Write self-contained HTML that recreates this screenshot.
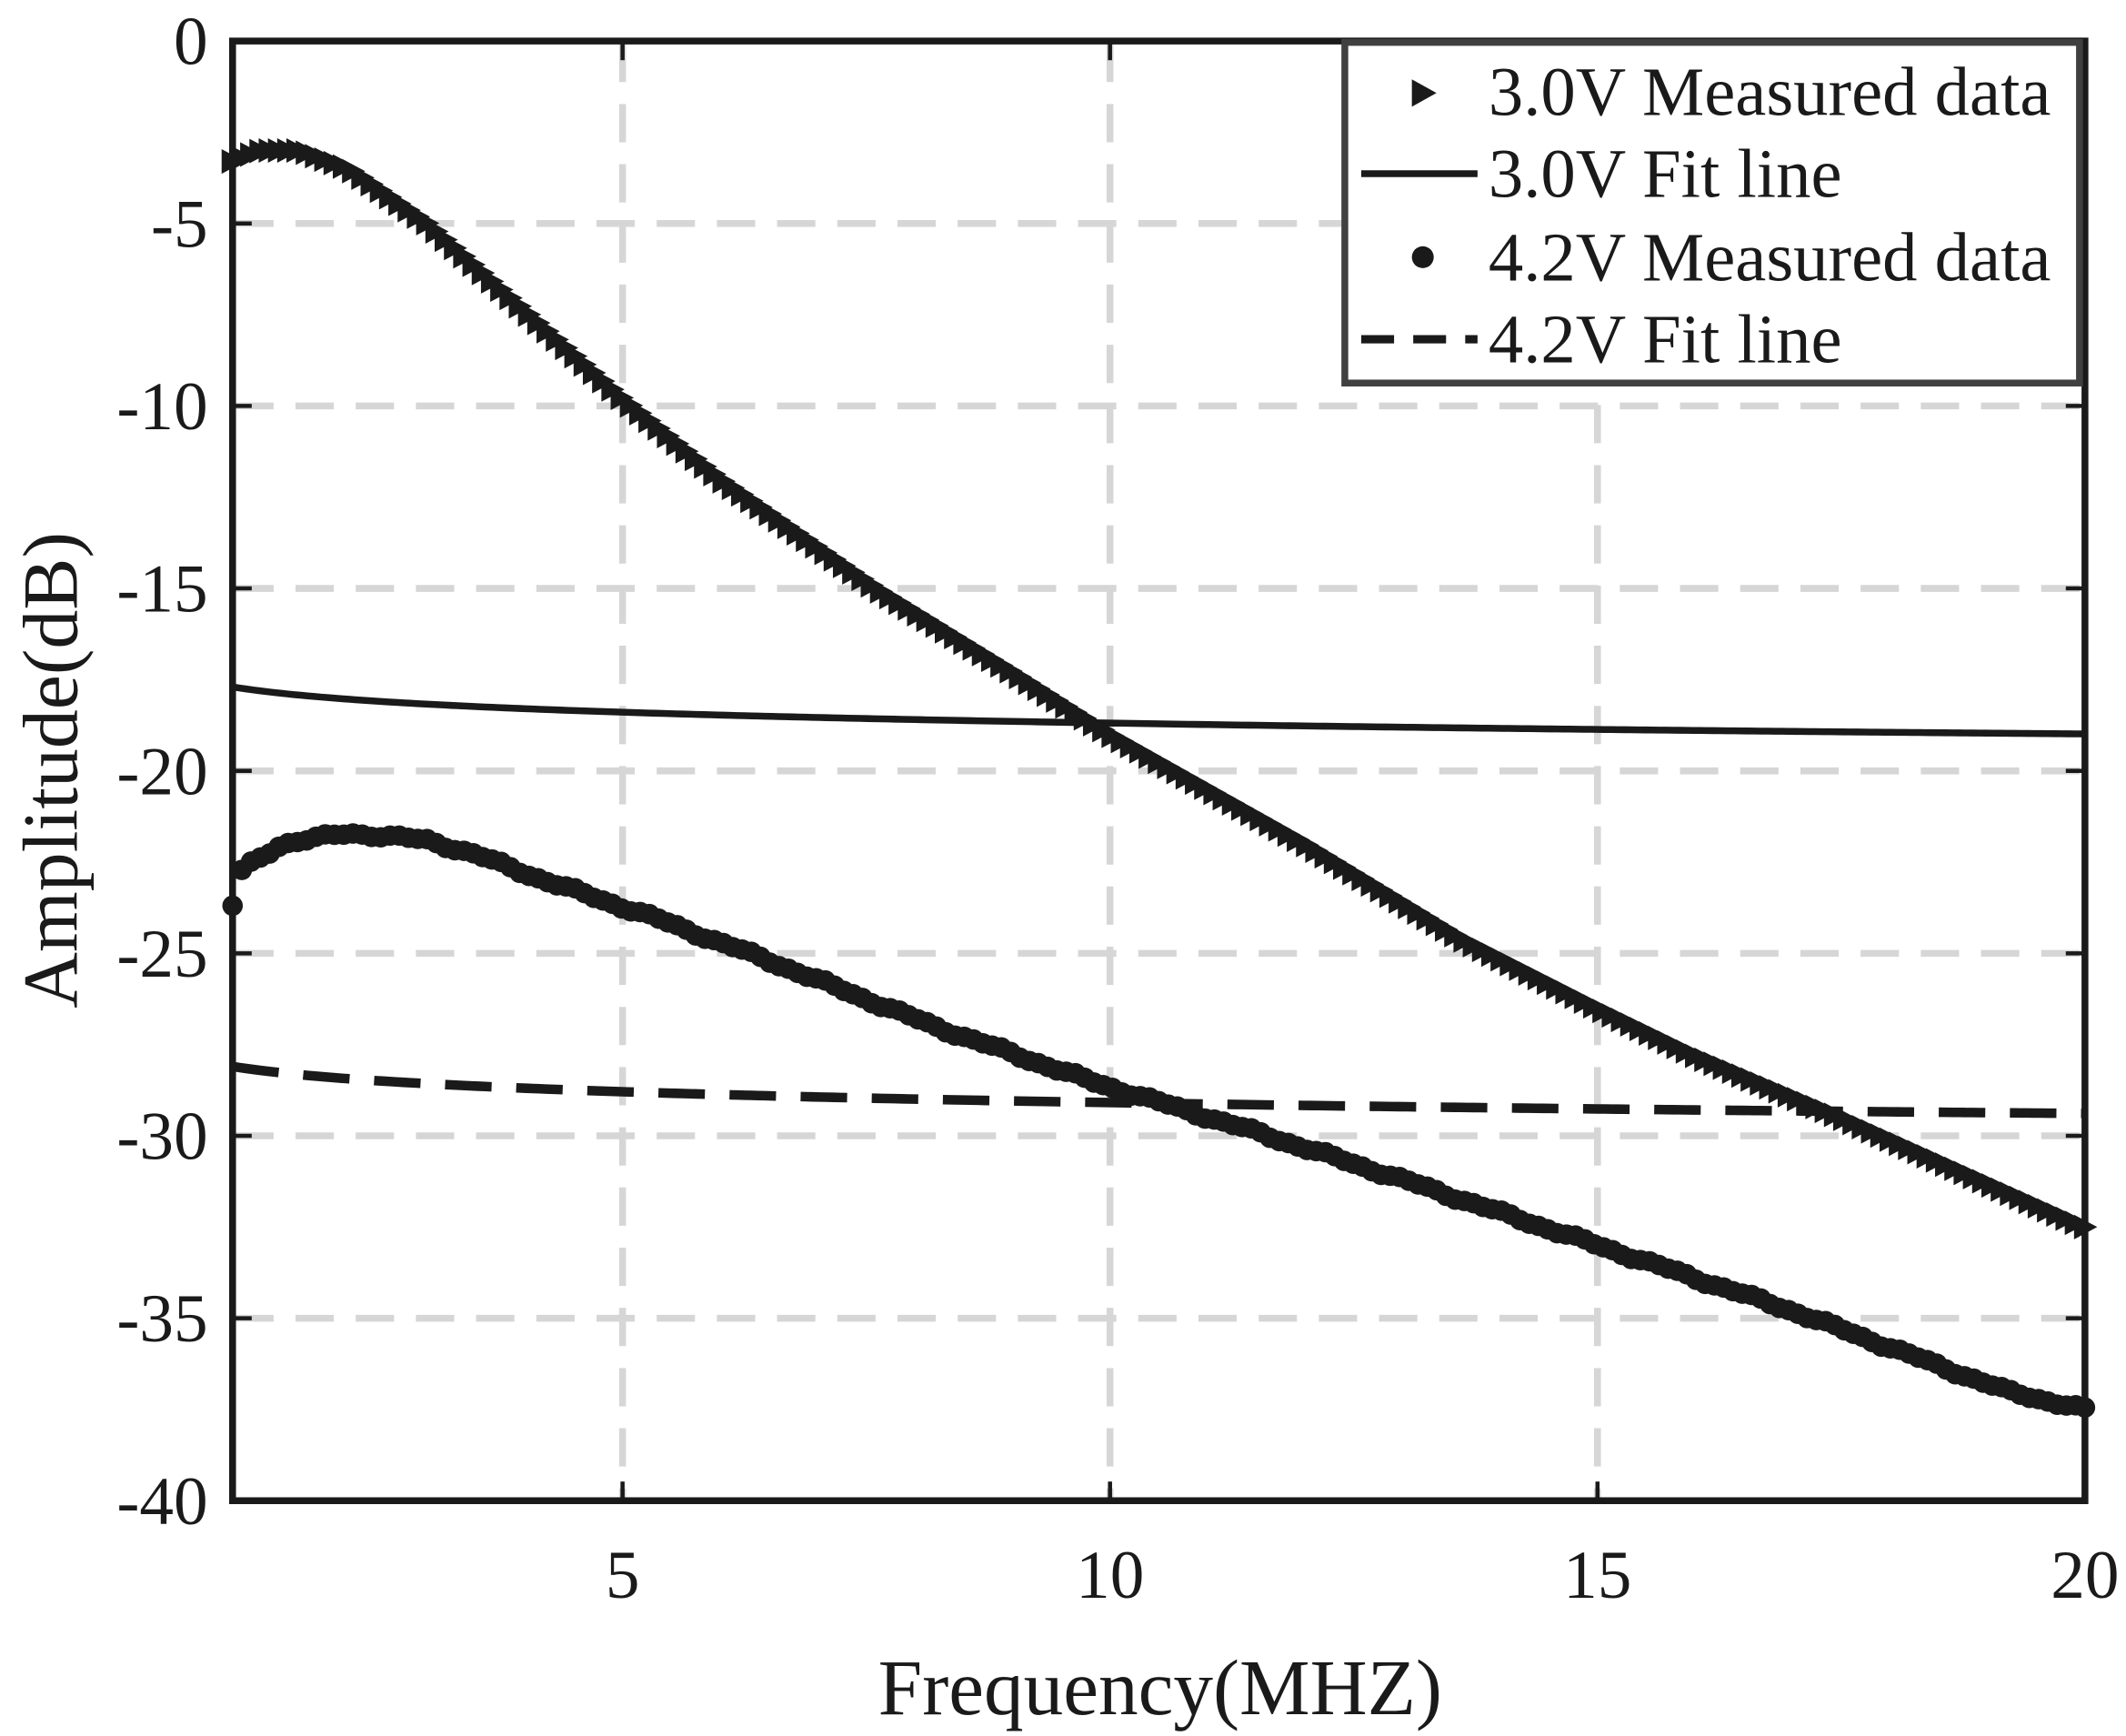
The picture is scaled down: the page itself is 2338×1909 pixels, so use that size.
<!DOCTYPE html>
<html><head><meta charset="utf-8"><style>
html,body{margin:0;padding:0;background:#fff}
svg{display:block}
text{font-family:"Liberation Serif",serif;fill:#1a1a1a}
</style></head><body>
<svg id="s" width="2338" height="1909" viewBox="0 0 1554 1269" preserveAspectRatio="none" xmlns="http://www.w3.org/2000/svg">
<rect width="1554" height="1269" fill="#fff"/>
<g id="grid" stroke="#d6d6d6" stroke-width="5" stroke-dasharray="28,16"></g>
<g id="data"></g>
<rect x="170" y="30" width="1354" height="1067" fill="none" stroke="#1a1a1a" stroke-width="5"/>
<g id="ticks" stroke="#1a1a1a" stroke-width="3"></g>
<g font-size="50" text-anchor="end" id="ylab"></g>
<g font-size="50" text-anchor="middle" id="xlab"></g>
<text x="848" y="1253" font-size="58" text-anchor="middle">Frequency(MHZ)</text>
<text transform="translate(56,563) rotate(-90)" font-size="57" text-anchor="middle">Amplitude(dB)</text>
<rect x="983" y="31" width="537" height="249" fill="#fff" stroke="#404040" stroke-width="5"/>
<polygon points="1032,58 1050,68 1032,78" fill="#1a1a1a"/>
<line x1="995" y1="127" x2="1080" y2="127" stroke="#1a1a1a" stroke-width="5"/>
<circle cx="1040" cy="188" r="8" fill="#1a1a1a"/>
<line x1="995" y1="248" x2="1080" y2="248" stroke="#1a1a1a" stroke-width="6" stroke-dasharray="24,14"/>
<g font-size="51"><text x="1088" y="84">3.0V Measured data</text><text x="1088" y="144">3.0V Fit line</text><text x="1088" y="205">4.2V Measured data</text><text x="1088" y="265">4.2V Fit line</text></g>
</svg>
<script>
var NS="http://www.w3.org/2000/svg";
function X(f){return 170+(f-1)*(1354/19);}
function Y(d){return 30-d*(1067/40);}
function el(p,t,a){var e=document.createElementNS(NS,t);for(var k in a)e.setAttribute(k,a[k]);document.getElementById(p).appendChild(e);return e;}
[5,10,15].forEach(function(f){el("grid","line",{x1:X(f),x2:X(f),y1:32,y2:1095});});
for(var d=-5;d>=-35;d-=5)el("grid","line",{x1:172,x2:1522,y1:Y(d),y2:Y(d)});
for(var d=0;d>=-40;d-=5){el("ylab","text",{x:152,y:Y(d)+17}).textContent=d;
 el("ticks","line",{x1:170,x2:184,y1:Y(d),y2:Y(d)});el("ticks","line",{x1:1510,x2:1524,y1:Y(d),y2:Y(d)});}
[5,10,15,20].forEach(function(f){el("xlab","text",{x:X(f),y:1168}).textContent=f;
 el("ticks","line",{x1:X(f),x2:X(f),y1:1083,y2:1097});el("ticks","line",{x1:X(f),x2:X(f),y1:30,y2:44});});
function interp(P,f){for(var i=0;i<P.length-1;i++){if(f<=P[i+1][0]){var t=(f-P[i][0])/(P[i+1][0]-P[i][0]);return P[i][1]+t*(P[i+1][1]-P[i][1]);}}return P[P.length-1][1];}
var A=[[1,-3.3],[1.3,-3.0],[1.7,-3.0],[2.2,-3.5],[3,-5],[4,-7.4],[5,-9.8],[6,-12],[7.6,-15],[9,-17.3],[10,-19],[11,-20.5],[12,-22],[13.6,-24.6],[15,-26.5],[16,-27.8],[17.5,-29.5],[19,-31.3],[20,-32.5]];
var B=[[1,-23.7],[1.1,-22.7],[1.5,-22],[2.2,-21.7],[3,-21.9],[3.5,-22.3],[4.2,-23],[5.3,-24],[6.5,-25.2],[8.2,-27],[9.8,-28.5],[11.5,-29.9],[13,-31.2],[15,-33],[17,-34.8],[18,-35.8],[19.2,-37],[20,-37.5]];
var s="";for(var f=1;f<=20.001;f+=0.07){s+=(s?"L":"M")+X(f)+","+Y(-17.7-0.43*Math.log(f))+" ";}
el("data","path",{d:s,fill:"none",stroke:"#1a1a1a","stroke-width":5});
s="";for(var f=1;f<=20.001;f+=0.07){s+=(s?"L":"M")+X(f)+","+Y(-28.1-0.43*Math.log(f))+" ";}
el("data","path",{d:s,fill:"none",stroke:"#1a1a1a","stroke-width":7,"stroke-dasharray":"34,18"});
for(var f=1;f<=20.001;f+=0.095){var x=X(f),y=Y(interp(A,f));
 el("data","polygon",{points:(x-8)+","+(y-9)+" "+(x+9)+","+y+" "+(x-8)+","+(y+9),fill:"#1a1a1a"});}
for(var f=1;f<=20.001;f+=0.095){var j=Math.sin(f*7.3)*0.04+Math.sin(f*17.1)*0.03;el("data","circle",{cx:X(f),cy:Y(interp(B,f)+j),r:7.5,fill:"#1a1a1a"});}
</script>
</body></html>
